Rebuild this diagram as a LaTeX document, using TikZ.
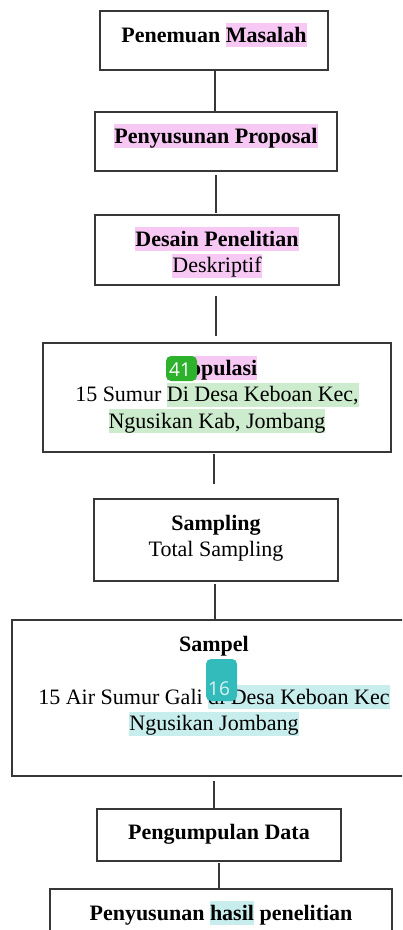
\documentclass[tikz,border=0pt]{standalone}
\usepackage{fontspec}
\setmainfont{Liberation Serif}
\newfontfamily\notefont{Open Sans}
\usetikzlibrary{positioning}
\definecolor{hlpink}{RGB}{246,200,243}
\definecolor{hlgreen}{RGB}{205,235,205}
\definecolor{hlcyan}{RGB}{200,237,237}
\definecolor{notegreen}{RGB}{46,178,46}
\definecolor{noteteal}{RGB}{51,187,187}
\definecolor{framegray}{RGB}{55,55,55}
\newcommand{\hlite}[2]{{\setlength{\fboxsep}{0pt}\colorbox{#1}{\rule[-2.5pt]{0pt}{12pt}#2}}}
\newcommand{\lineup}{\rule{0pt}{9.5pt}}

\begin{document}
\begin{tikzpicture}[x=0.5pt, y=-0.5pt,
    box/.style={draw=framegray, line width=1pt, inner sep=0pt},
    txt/.style={align=center, inner sep=0pt, font=\fontsize{11pt}{13.25pt}\selectfont},
    link/.style={draw=framegray, line width=1pt},
    note/.style={rounded corners=2.5pt, inner sep=0pt, minimum width=15.5pt}]
    \useasboundingbox (0,0) rectangle (402,930);
    \clip (0,0) rectangle (402,930);

    % Frames of the steps
    \node[box, minimum width=114pt, minimum height=29.5pt] (b1) at (214,40.5) {};
    \node[box, minimum width=121pt, minimum height=29.5pt] (b2) at (216,141.5) {};
    \node[box, minimum width=122pt, minimum height=35pt] (b3) at (217,250) {};
    \node[box, minimum width=174pt, minimum height=54.5pt] (b4) at (217,397.5) {};
    \node[box, minimum width=122pt, minimum height=41pt] (b5) at (216,540) {};
    \node[box, minimum width=202pt, minimum height=78pt] (b6) at (214,698) {};
    \node[box, minimum width=122pt, minimum height=26pt] (b7) at (219,834.5) {};
    \node[box, minimum width=171pt, minimum height=30.5pt] (b8) at (221,919.5) {};

    % Texts of the steps
    \node[txt, below=6.5pt of b1.north] (t1) {\lineup\textbf{Penemuan \hlite{hlpink}{Masalah}}};
    \node[txt, below=6.5pt of b2.north] (t2) {\lineup\textbf{\hlite{hlpink}{Penyusunan Proposal}}};
    \node[txt, below=6.5pt of b3.north] (t3) {\lineup\textbf{\hlite{hlpink}{Desain Penelitian}}\\
        \hlite{hlpink}{Deskriptif}};
    \node[txt, below=7pt of b4.north] (t4) {\lineup\textbf{\hlite{hlpink}{Populasi}}\\
        15 Sumur \hlite{hlgreen}{Di Desa Keboan Kec,}\\
        \hlite{hlgreen}{Ngusikan Kab, Jombang}};
    \node[txt, below=6.5pt of b5.north] (t5) {\lineup\textbf{Sampling}\\ Total Sampling};
    \node[txt, below=6.5pt of b6.north] (t6) {\lineup\textbf{Sampel}\\[13.25pt]
        15 Air Sumur Gali \hlite{hlcyan}{di Desa Keboan Kec}\\
        \hlite{hlcyan}{Ngusikan Jombang}};
    \node[txt, below=6.5pt of b7.north] (t7) {\lineup\textbf{Pengumpulan Data}};
    \node[txt, below=6.5pt of b8.north] (t8) {\lineup\textbf{Penyusunan \hlite{hlcyan}{hasil} penelitian}};

    % Links between the steps
    \foreach \a/\b/\dx/\ga/\gb in {b1/b2/0.5/0/0, b2/b3/0/1.5/0.5, b3/b4/-0.5/5/3,
        b4/b5/-1.5/0.5/7, b5/b6/-0.5/1/0, b6/b7/0/2/0, b7/b8/0/0.5/0} {
        \draw[link, shorten <=\ga pt, shorten >=\gb pt]
            ([xshift=\dx pt]\a.south) -- ([xshift=\dx pt]\a.south |- \b.north);
    }

    % Comment markers
    \node[note, fill=notegreen, minimum height=12.5pt] (n41) at (181.5,368.5) {};
    \node[text=white, inner sep=0pt, font=\notefont\fontsize{9.5pt}{10pt}\selectfont] (n41txt) at (180,370) {41};
    \node[note, fill=noteteal, minimum height=21pt] (n16) at (221.5,680) {};
    \node[text=hlcyan!70!white, inner sep=0pt, font=\notefont\fontsize{9.5pt}{10pt}\selectfont] (n16txt) at (219,689) {16};
\end{tikzpicture}
\end{document}
